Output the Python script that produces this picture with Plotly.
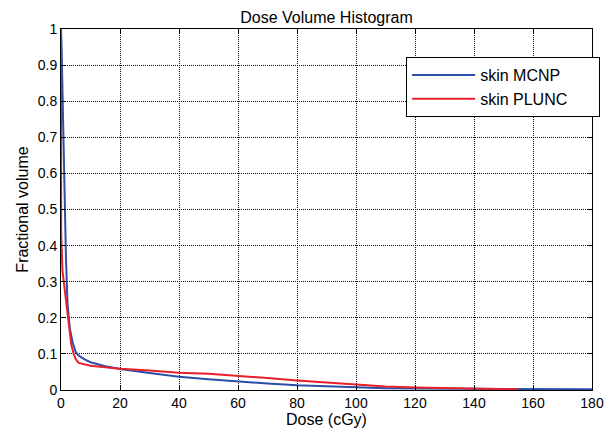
import plotly.graph_objects as go

# MCNP (blue) DVH
mcnp_dose = [0, 0.2, 0.7, 1.0, 1.3, 1.7, 2.2, 2.6, 3.0, 3.5, 4, 5, 6, 8, 10, 15, 20, 30, 40, 50,
             60, 70, 80, 90, 100, 110, 120, 140, 160, 180]
mcnp_vol = [1.0, 0.95, 0.75, 0.6, 0.45, 0.36, 0.24, 0.2, 0.17, 0.15, 0.13, 0.105, 0.095, 0.085,
            0.077, 0.066, 0.058, 0.047, 0.037, 0.03, 0.023, 0.018, 0.013, 0.01, 0.007, 0.005,
            0.004, 0.003, 0.002, 0.002]

# PLUNC (red) DVH
plunc_dose = [0, 0.05, 0.5, 1.4, 2.0, 2.5, 3.0, 3.5, 4.3, 5, 6, 8, 10, 15, 20, 30, 40, 50, 60,
              70, 80, 90, 100, 110, 120, 130, 140, 150, 155]
plunc_vol = [1.0, 0.435, 0.33, 0.27, 0.24, 0.2, 0.16, 0.125, 0.1, 0.085, 0.075, 0.07, 0.067,
             0.063, 0.059, 0.054, 0.048, 0.045, 0.04, 0.033, 0.026, 0.02, 0.014, 0.01, 0.007,
             0.006, 0.003, 0.002, 0.002]

x_ticks = [0, 20, 40, 60, 80, 100, 120, 140, 160, 180]
y_ticks = [0, 0.1, 0.2, 0.3, 0.4, 0.5, 0.6, 0.7, 0.8, 0.9, 1]
y_ticktext = ["0", "0.1", "0.2", "0.3", "0.4", "0.5", "0.6", "0.7", "0.8", "0.9", "1"]

FONT = "Liberation Sans, Arial, sans-serif"
PAD = "\u00a0" * 6

W, H = 607, 430

fig = go.Figure()
fig.add_trace(go.Scatter(x=mcnp_dose, y=mcnp_vol, mode="lines", name="skin MCNP" + PAD,
                         line=dict(color="#2B4FA8", width=2)))
fig.add_trace(go.Scatter(x=plunc_dose, y=plunc_vol, mode="lines", name="skin PLUNC" + PAD,
                         line=dict(color="#E8202A", width=2)))

axis_common = dict(
    showline=True, linecolor="black", linewidth=1, mirror="allticks",
    ticks="inside", ticklen=5, tickcolor="black",
    showgrid=True, gridcolor="#111111", griddash="1px,1px", gridwidth=1,
    zeroline=False, tickfont=dict(family=FONT, size=14, color="black"),
    automargin=False,
)

fig.update_xaxes(range=[0, 180], tickvals=x_ticks,
                 title=dict(text="Dose (cGy)", font=dict(family=FONT, size=16, color="black"), standoff=0),
                 **axis_common)
fig.update_yaxes(range=[0, 1], tickvals=y_ticks, ticktext=y_ticktext,
                 title=dict(text="Fractional volume", font=dict(family=FONT, size=16, color="black"), standoff=5),
                 **axis_common)

fig.update_layout(
    width=W, height=H,
    margin=dict(l=61, r=15, t=29, b=40, autoexpand=False),
    paper_bgcolor="white", plot_bgcolor="white",
    font=dict(family=FONT, size=14, color="black"),
    title=dict(text="Dose Volume Histogram", x=(61 + 592) / 2 / W, xanchor="center",
               y=1 - 17 / H, yanchor="middle", yref="container",
               font=dict(family=FONT, size=16, color="black")),
    legend=dict(x=0.65, y=0.922, xanchor="left", yanchor="top",
                bgcolor="white", bordercolor="black", borderwidth=1,
                font=dict(family=FONT, size=16, color="black"),
                tracegroupgap=0, itemwidth=63),
    showlegend=True,
)

fig.write_html("out.html", post_script="document.body.style.margin='0';",
               config={"displayModeBar": False})
